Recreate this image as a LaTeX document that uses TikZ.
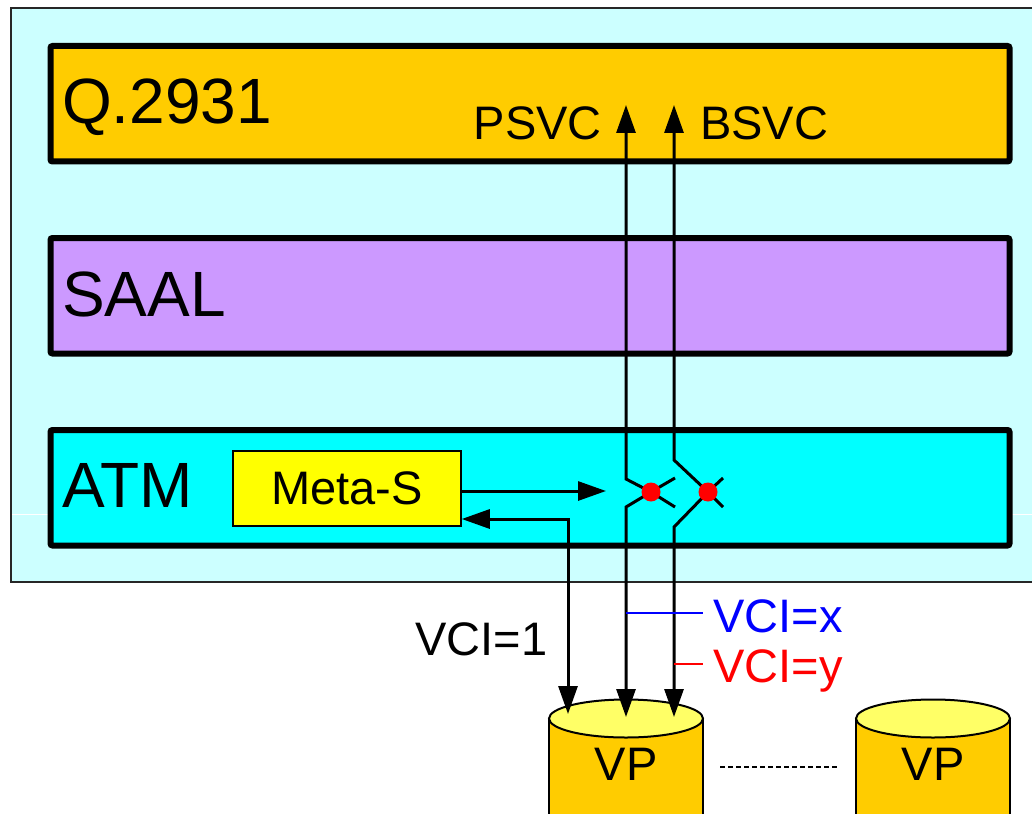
\documentclass[tikz,border=0pt]{standalone}
\usepackage{fontspec}
\setmainfont{Liberation Sans}
\usetikzlibrary{arrows.meta}
\definecolor{outerc}{HTML}{CCFFFF}
\definecolor{qc}{HTML}{FFCC00}
\definecolor{saalc}{HTML}{CC99FF}
\definecolor{atmc}{HTML}{00FFFF}
\definecolor{metac}{HTML}{FFFF00}
\definecolor{cyltop}{HTML}{FFFF66}
\definecolor{cylbody}{HTML}{FFCC00}
\definecolor{vblue}{HTML}{0000FF}
\definecolor{vred}{HTML}{FF0000}
\begin{document}
\begin{tikzpicture}[x=1pt,y=-1pt,
  layer/.style={draw=black, line width=6pt, rounded corners=2pt, minimum width=959pt, minimum height=115.5pt, inner sep=0pt},
  big/.style={font=\fontsize{64}{64}\selectfont, inner sep=0pt, anchor=base west},
  small/.style={font=\fontsize{47}{47}\selectfont, inner sep=0pt},
  wire/.style={line width=3pt},
  tip/.tip={Triangle[length=28pt,width=19pt]},
  arr/.style={wire, -tip},
  cylside/.style={line width=2pt},
  vcil/.style={line width=2.8pt},
]
\useasboundingbox (0,0) rectangle (1032,813);
\clip (0,0) rectangle (1032,813);
% outer frame
\draw[fill=outerc, line width=1.5pt, draw=black!85] (11,8) rectangle (1045,582);
\draw[white, line width=1pt] (12,514) -- (1040,514);
% layers
\node[layer, fill=qc] (q) at (530,103.75) {};
\node[layer, fill=saalc] (saal) at (530,295.75) {};
\node[layer, fill=atmc] (atm) at (530,487.75) {};
\node[big] (qt) at (62,124) {Q.2931};
\node[big] (saalt) at (62,316) {SAAL};
\node[big] (atmt) at (62,507) {ATM};
\node[small, draw=black, line width=1.5pt, fill=metac, minimum width=228pt, minimum height=75pt] (meta) at (347,488.5) {Meta-S};
\node[small, anchor=base east] (psvc) at (602,140) {PSVC};
\node[small, anchor=base west] (bsvc) at (700,140) {BSVC};
% cylinders
\fill[cylbody] (549,718) rectangle (703,830);
\draw[cylside] (549,718) -- (549,830) (703,718) -- (703,830);
\draw[cylside, fill=cyltop] (626,718.5) ellipse [x radius=77pt, y radius=19pt];
\node[small, anchor=base] (vp1) at (626,780) {VP};
\fill[cylbody] (856,718) rectangle (1010,830);
\draw[cylside] (856,718) -- (856,830) (1010,718) -- (1010,830);
\draw[cylside, fill=cyltop] (933,718.5) ellipse [x radius=77pt, y radius=19pt];
\node[small, anchor=base] (vp2) at (933,780) {VP};
\coordinate (dotsA) at (720,767);
\coordinate (dotsB) at (838,767);
\draw[line width=2.5pt, dash pattern=on 5pt off 3pt] (dotsA) -- (dotsB);
% switch points
\coordinate (psvctip) at (626,105);
\coordinate (bsvctip) at (674,105);
\coordinate (s1) at (651,492);
\coordinate (s2) at (708,492);
\coordinate (k1) at (626,479);
\coordinate (k2) at (626,507);
\coordinate (k3) at (674,460);
\coordinate (k4) at (674,527);
\coordinate (vpA) at (568,714);
\coordinate (vpB) at (626,717);
\coordinate (vpC) at (674,717);
\coordinate (swin) at (606,491);
\coordinate (ret) at (568,519);
% connectors
\draw[arr] (meta.east |- swin) -- (swin);
\draw[wire, tip-tip] (meta.east |- ret) -- (ret) -- (vpA);
\draw[arr] (s1) -- (k1) -- (psvctip);
\draw[arr] (s1) -- (k2) -- (vpB);
\draw[arr] (s2) -- (k3) -- (bsvctip);
\draw[arr] (s2) -- (k4) -- (vpC);
\draw[wire] (s1) -- (675,478) (s1) -- (675,507);
\draw[wire] (s2) -- (723,478) (s2) -- (723,507);
\fill[vred] (s1) circle (9.5pt);
\fill[vred] (s2) circle (9.5pt);
% VCI labels
\coordinate (bx) at (626,613);
\coordinate (by) at (674,664);
\draw[vblue, vcil] (bx) -- (703,613);
\draw[vred, vcil] (by) -- (703,664);
\node[small, text=vblue, anchor=base west] (vcix) at (713,632) {VCI=x};
\node[small, text=vred, anchor=base west] (vciy) at (713,682) {VCI=y};
\node[small, anchor=base west] (vci1) at (415,655) {VCI=1};
\end{tikzpicture}
\end{document}
